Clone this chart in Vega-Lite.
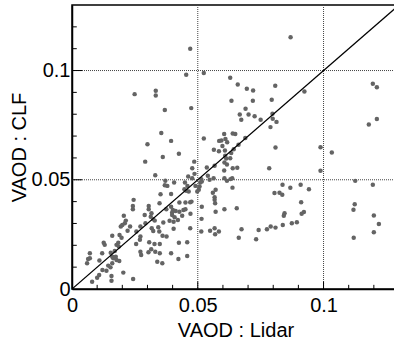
{
  "$schema": "https://vega.github.io/schema/vega-lite/v6.json",
  "width": 327,
  "height": 284,
  "autosize": "none",
  "padding": {"left": 72, "top": 5, "right": 0, "bottom": 51},
  "background": "white",
  "config": {
    "font": "Liberation Sans",
    "view": {"stroke": "black", "strokeWidth": 1.5},
    "axis": {
      "grid": false,
      "ticks": false,
      "domainColor": "black",
      "domainWidth": 1.5,
      "labelFont": "Liberation Sans",
      "labelFontSize": 20,
      "labelColor": "black",
      "titleFont": "Liberation Sans",
      "titleFontSize": 20,
      "titleFontWeight": "normal",
      "titleColor": "black",
      "labelOverlap": false,
      "labelFlush": false
    }
  },
  "datasets": {
    "pts": [
      {"x":0.0331,"y":0.0521},{"x":0.0369,"y":0.0475},{"x":0.0352,"y":0.0434},{"x":0.0245,"y":0.0408},{"x":0.0348,"y":0.0393},
      {"x":0.0242,"y":0.0380},{"x":0.0242,"y":0.0365},{"x":0.0305,"y":0.0380},{"x":0.0305,"y":0.0365},{"x":0.0316,"y":0.0347},
      {"x":0.0289,"y":0.0339},{"x":0.0206,"y":0.0335},{"x":0.0313,"y":0.0331},{"x":0.0323,"y":0.0319},{"x":0.0329,"y":0.0313},
      {"x":0.0214,"y":0.0313},{"x":0.0210,"y":0.0301},{"x":0.0200,"y":0.0293},{"x":0.0194,"y":0.0286},{"x":0.0292,"y":0.0301},
      {"x":0.0363,"y":0.0304},{"x":0.0231,"y":0.0286},{"x":0.0272,"y":0.0286},{"x":0.0317,"y":0.0278},{"x":0.0323,"y":0.0266},
      {"x":0.0343,"y":0.0283},{"x":0.0347,"y":0.0263},{"x":0.0221,"y":0.0267},{"x":0.0256,"y":0.0263},{"x":0.0189,"y":0.0247},
      {"x":0.0197,"y":0.0235},{"x":0.0160,"y":0.0244},{"x":0.0360,"y":0.0244},{"x":0.0272,"y":0.0240},{"x":0.0270,"y":0.0225},
      {"x":0.0376,"y":0.0240},{"x":0.0184,"y":0.0212},{"x":0.0177,"y":0.0202},{"x":0.0126,"y":0.0212},{"x":0.0130,"y":0.0202},
      {"x":0.0307,"y":0.0214},{"x":0.0328,"y":0.0206},{"x":0.0349,"y":0.0206},{"x":0.0255,"y":0.0206},{"x":0.0315,"y":0.0182},
      {"x":0.0186,"y":0.0194},{"x":0.0170,"y":0.0174},{"x":0.0160,"y":0.0148},{"x":0.0304,"y":0.0168},{"x":0.0331,"y":0.0171},
      {"x":0.0349,"y":0.0164},{"x":0.0154,"y":0.0166},{"x":0.0272,"y":0.0171},{"x":0.0275,"y":0.0156},{"x":0.0071,"y":0.0164},
      {"x":0.0120,"y":0.0164},{"x":0.0174,"y":0.0148},{"x":0.0164,"y":0.0141},{"x":0.0177,"y":0.0133},{"x":0.0188,"y":0.0128},
      {"x":0.0064,"y":0.0137},{"x":0.0071,"y":0.0141},{"x":0.0060,"y":0.0118},{"x":0.0109,"y":0.0130},{"x":0.0160,"y":0.0118},
      {"x":0.0339,"y":0.0125},{"x":0.0359,"y":0.0118},{"x":0.0144,"y":0.0107},{"x":0.0153,"y":0.0099},{"x":0.0121,"y":0.0087},
      {"x":0.0137,"y":0.0084},{"x":0.0204,"y":0.0075},{"x":0.0157,"y":0.0060},{"x":0.0108,"y":0.0064},{"x":0.0100,"y":0.0052},
      {"x":0.0243,"y":0.0046},{"x":0.0080,"y":0.0033},{"x":0.0157,"y":0.0038},
      {"x":0.0394,"y":0.0678},{"x":0.0361,"y":0.0604},{"x":0.0425,"y":0.0619},{"x":0.0605,"y":0.0542},{"x":0.0487,"y":0.0527},
      {"x":0.0462,"y":0.0515},{"x":0.0478,"y":0.0507},{"x":0.0540,"y":0.0518},{"x":0.0547,"y":0.0500},{"x":0.0563,"y":0.0507},
      {"x":0.0606,"y":0.0507},{"x":0.0616,"y":0.0495},{"x":0.0637,"y":0.0507},{"x":0.0630,"y":0.0503},{"x":0.0514,"y":0.0503},
      {"x":0.0516,"y":0.0492},{"x":0.0510,"y":0.0487},{"x":0.0371,"y":0.0496},{"x":0.0406,"y":0.0487},{"x":0.0379,"y":0.0472},
      {"x":0.0449,"y":0.0487},{"x":0.0459,"y":0.0472},{"x":0.0491,"y":0.0472},{"x":0.0507,"y":0.0469},{"x":0.0504,"y":0.0454},
      {"x":0.0498,"y":0.0446},{"x":0.0394,"y":0.0435},{"x":0.0447,"y":0.0457},{"x":0.0454,"y":0.0450},{"x":0.0464,"y":0.0446},
      {"x":0.0560,"y":0.0441},{"x":0.0571,"y":0.0454},{"x":0.0638,"y":0.0464},{"x":0.0567,"y":0.0420},{"x":0.0567,"y":0.0408},
      {"x":0.0569,"y":0.0393},{"x":0.0427,"y":0.0396},{"x":0.0451,"y":0.0396},{"x":0.0470,"y":0.0397},{"x":0.0475,"y":0.0400},
      {"x":0.0394,"y":0.0377},{"x":0.0516,"y":0.0377},{"x":0.0375,"y":0.0365},{"x":0.0401,"y":0.0362},{"x":0.0412,"y":0.0357},
      {"x":0.0398,"y":0.0350},{"x":0.0443,"y":0.0362},{"x":0.0451,"y":0.0365},{"x":0.0427,"y":0.0354},{"x":0.0438,"y":0.0335},
      {"x":0.0606,"y":0.0365},{"x":0.0655,"y":0.0370},{"x":0.0571,"y":0.0354},{"x":0.0398,"y":0.0339},{"x":0.0408,"y":0.0329},
      {"x":0.0421,"y":0.0316},{"x":0.0404,"y":0.0308},{"x":0.0388,"y":0.0312},{"x":0.0471,"y":0.0344},{"x":0.0515,"y":0.0321},
      {"x":0.0404,"y":0.0276},{"x":0.0470,"y":0.0278},{"x":0.0514,"y":0.0263},{"x":0.0549,"y":0.0267},{"x":0.0567,"y":0.0278},
      {"x":0.0569,"y":0.0251},{"x":0.0584,"y":0.0263},{"x":0.0674,"y":0.0274},{"x":0.0663,"y":0.0235},{"x":0.0732,"y":0.0228},
      {"x":0.0742,"y":0.0270},{"x":0.0458,"y":0.0214},{"x":0.0425,"y":0.0212},{"x":0.0394,"y":0.0164},{"x":0.0458,"y":0.0151},
      {"x":0.0423,"y":0.0137},
      {"x":0.0869,"y":0.1152},{"x":0.0470,"y":0.1100},{"x":0.0524,"y":0.0989},{"x":0.0629,"y":0.0967},{"x":0.0659,"y":0.0936},
      {"x":0.0695,"y":0.0917},{"x":0.0720,"y":0.0909},{"x":0.0808,"y":0.0930},{"x":0.0924,"y":0.0904},{"x":0.0634,"y":0.0862},
      {"x":0.0719,"y":0.0862},{"x":0.0794,"y":0.0866},{"x":0.0474,"y":0.0828},{"x":0.0690,"y":0.0825},{"x":0.0667,"y":0.0799},
      {"x":0.0673,"y":0.0775},{"x":0.0702,"y":0.0799},{"x":0.0726,"y":0.0791},{"x":0.0750,"y":0.0775},{"x":0.0797,"y":0.0802},
      {"x":0.0798,"y":0.0779},{"x":0.0813,"y":0.0765},{"x":0.0789,"y":0.0741},{"x":0.0605,"y":0.0710},{"x":0.0639,"y":0.0712},
      {"x":0.0649,"y":0.0710},{"x":0.0610,"y":0.0687},{"x":0.0617,"y":0.0672},{"x":0.0585,"y":0.0678},{"x":0.0594,"y":0.0680},
      {"x":0.0598,"y":0.0655},{"x":0.0524,"y":0.0689},{"x":0.0689,"y":0.0691},{"x":0.0662,"y":0.0660},{"x":0.0564,"y":0.0637},
      {"x":0.0584,"y":0.0631},{"x":0.0608,"y":0.0634},{"x":0.0633,"y":0.0622},{"x":0.0643,"y":0.0640},{"x":0.0809,"y":0.0648},
      {"x":0.0609,"y":0.0610},{"x":0.0613,"y":0.0597},{"x":0.0629,"y":0.0599},{"x":0.0606,"y":0.0579},{"x":0.0616,"y":0.0570},
      {"x":0.0486,"y":0.0583},{"x":0.0478,"y":0.0553},{"x":0.0536,"y":0.0556},{"x":0.0567,"y":0.0564},{"x":0.0639,"y":0.0553},
      {"x":0.0657,"y":0.0555},{"x":0.0784,"y":0.0553},
      {"x":0.0249,"y":0.0892},{"x":0.0333,"y":0.0907},{"x":0.0333,"y":0.0886},{"x":0.0454,"y":0.0981},{"x":0.0369,"y":0.0819},
      {"x":0.0355,"y":0.0714},{"x":0.0300,"y":0.0663},{"x":0.0291,"y":0.0583},{"x":0.0988,"y":0.0649},{"x":0.1033,"y":0.0625},
      {"x":0.1180,"y":0.0753},{"x":0.1212,"y":0.0778},{"x":0.1196,"y":0.0940},{"x":0.1212,"y":0.0924},{"x":0.0988,"y":0.0541},
      {"x":0.1126,"y":0.0495},{"x":0.1196,"y":0.0477},{"x":0.1124,"y":0.0388},{"x":0.1119,"y":0.0363},{"x":0.1120,"y":0.0235},
      {"x":0.1200,"y":0.0336},{"x":0.1220,"y":0.0298},{"x":0.1200,"y":0.0260},{"x":0.0837,"y":0.0477},{"x":0.0868,"y":0.0463},
      {"x":0.0909,"y":0.0477},{"x":0.0942,"y":0.0457},{"x":0.0805,"y":0.0439},{"x":0.0825,"y":0.0441},{"x":0.0836,"y":0.0431},
      {"x":0.0911,"y":0.0397},{"x":0.0922,"y":0.0352},{"x":0.0913,"y":0.0344},{"x":0.0845,"y":0.0347},{"x":0.0842,"y":0.0335},
      {"x":0.0894,"y":0.0306},{"x":0.0874,"y":0.0301},{"x":0.0838,"y":0.0293},{"x":0.0809,"y":0.0281},{"x":0.0790,"y":0.0286},
      {"x":0.0775,"y":0.0274}
    ],
    "diag": [{"x": 0, "y": 0}, {"x": 0.13, "y": 0.13}],
    "major": [{"v": 0.05}, {"v": 0.1}],
    "minor": [{"v": 0.01}, {"v": 0.02}, {"v": 0.03}, {"v": 0.04}, {"v": 0.06}, {"v": 0.07}, {"v": 0.08}, {"v": 0.09}, {"v": 0.11}, {"v": 0.12}]
  },
  "layer": [
    {
      "data": {"name": "major"},
      "mark": {"type": "rule", "color": "#444444", "strokeWidth": 1, "strokeDash": [1, 1]},
      "encoding": {
        "x": {"field": "v", "type": "quantitative", "scale": {"domain": [0, 0.13], "nice": false}, "title": "VAOD : Lidar"}
      }
    },
    {
      "data": {"name": "major"},
      "mark": {"type": "rule", "color": "#444444", "strokeWidth": 1, "strokeDash": [1, 1]},
      "encoding": {
        "y": {"field": "v", "type": "quantitative", "scale": {"domain": [0, 0.13], "nice": false}, "title": "VAOD : CLF"}
      }
    },
    {
      "data": {"name": "major"},
      "mark": {"type": "rule", "color": "black", "strokeWidth": 1},
      "encoding": {
        "x": {"field": "v", "type": "quantitative", "title": "VAOD : Lidar"},
        "y": {"datum": 0},
        "y2": {"datum": 0.0034}
      }
    },
    {
      "data": {"name": "minor"},
      "mark": {"type": "rule", "color": "black", "strokeWidth": 1},
      "encoding": {
        "x": {"field": "v", "type": "quantitative", "title": "VAOD : Lidar"},
        "y": {"datum": 0},
        "y2": {"datum": 0.0019}
      }
    },
    {
      "data": {"name": "major"},
      "mark": {"type": "rule", "color": "black", "strokeWidth": 1},
      "encoding": {
        "y": {"field": "v", "type": "quantitative", "title": "VAOD : CLF"},
        "x": {"datum": 0},
        "x2": {"datum": 0.004}
      }
    },
    {
      "data": {"name": "minor"},
      "mark": {"type": "rule", "color": "black", "strokeWidth": 1},
      "encoding": {
        "y": {"field": "v", "type": "quantitative", "title": "VAOD : CLF"},
        "x": {"datum": 0},
        "x2": {"datum": 0.0019}
      }
    },
    {
      "data": {"name": "pts"},
      "mark": {"type": "circle", "color": "#646464", "opacity": 1, "size": 20},
      "encoding": {
        "x": {"field": "x", "type": "quantitative", "scale": {"domain": [0, 0.13], "nice": false}, "title": "VAOD : Lidar",
              "axis": {"values": [0, 0.05, 0.1],
                       "labelExpr": "abs(datum.value) < 1e-9 ? '0' : abs(datum.value - 0.05) < 1e-9 ? '0.05' : '0.1'",
                       "labelPadding": 6, "titlePadding": 5}},
        "y": {"field": "y", "type": "quantitative", "scale": {"domain": [0, 0.13], "nice": false}, "title": "VAOD : CLF",
              "axis": {"values": [0, 0.05, 0.1],
                       "labelExpr": "abs(datum.value) < 1e-9 ? '0' : abs(datum.value - 0.05) < 1e-9 ? '0.05' : '0.1'",
                       "labelPadding": 2, "titlePadding": 2}}
      }
    },
    {
      "data": {"name": "diag"},
      "mark": {"type": "line", "color": "black", "strokeWidth": 1.2, "clip": true},
      "encoding": {
        "x": {"field": "x", "type": "quantitative", "title": "VAOD : Lidar"},
        "y": {"field": "y", "type": "quantitative", "title": "VAOD : CLF"}
      }
    }
  ]
}
